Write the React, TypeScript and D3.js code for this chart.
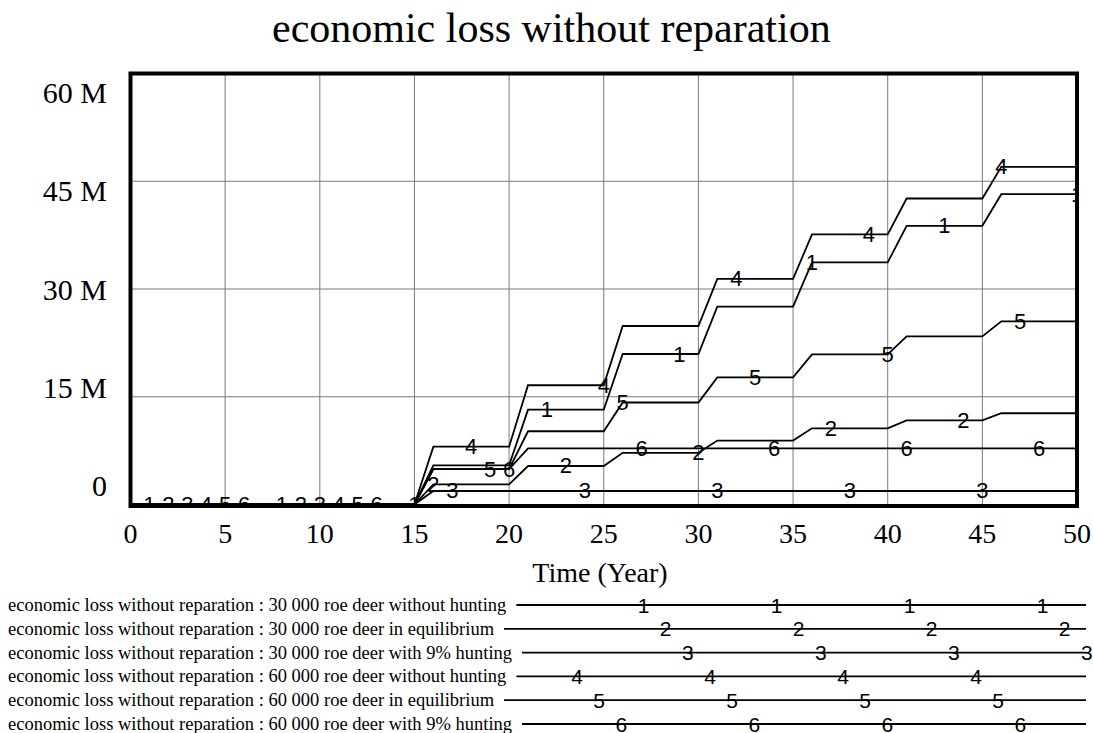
import React, { useEffect, useRef } from "react";
import * as d3 from "d3";

const TITLE = "economic loss without reparation";
const X_LABEL = "Time (Year)";
const X_TICKS = [0, 5, 10, 15, 20, 25, 30, 35, 40, 45, 50];
const Y_TICKS = [0, 15e6, 30e6, 45e6, 60e6];
const Y_TICK_LABELS = ["0", "15 M", "30 M", "45 M", "60 M"];

const SERIES_NAMES = [
  "economic loss without reparation : 30 000 roe deer without hunting",
  "economic loss without reparation : 30 000 roe deer in equilibrium",
  "economic loss without reparation : 30 000 roe deer with 9% hunting",
  "economic loss without reparation : 60 000 roe deer without hunting",
  "economic loss without reparation : 60 000 roe deer in equilibrium",
  "economic loss without reparation : 60 000 roe deer with 9% hunting",
];

// years at which each damage level is reached (level holds until the next step)
const ZERO_UNTIL = 15;
const STEP_START = [16, 21, 26, 31, 36, 41, 46];
const STEP_END = [20, 25, 30, 35, 40, 45, 50];

// values in millions for each 5-year period
const S1 = [5.45, 13.2, 20.95, 27.55, 33.7, 38.8, 43.2];
const S2 = [2.8, 5.36, 7.2, 8.9, 10.6, 11.7, 12.7];
const S3 = [1.88, 1.88, 1.88, 1.88, 1.88, 1.88, 1.88];
const S4 = [8.05, 16.6, 24.85, 31.4, 37.6, 42.6, 47.0];
const S5 = [4.92, 10.2, 14.2, 17.7, 20.9, 23.4, 25.5];
const S6 = [4.92, 7.8, 7.8, 7.8, 7.8, 7.8, 7.8];
const SERIES = [S1, S2, S3, S4, S5, S6];

const SERIF = "'Liberation Serif', 'Times New Roman', serif";
const SANS = "'Liberation Sans', Arial, sans-serif";

function valueAt(levels: number[], t: number): number {
  if (t <= ZERO_UNTIL) return 0;
  for (let i = 0; i < STEP_START.length; i++) {
    if (t >= STEP_START[i] && t <= STEP_END[i]) return levels[i] * 1e6;
  }
  for (let i = 0; i < STEP_START.length - 1; i++) {
    if (t > STEP_END[i] && t < STEP_START[i + 1]) {
      const f = (t - STEP_END[i]) / (STEP_START[i + 1] - STEP_END[i]);
      return (levels[i] + f * (levels[i + 1] - levels[i])) * 1e6;
    }
  }
  return 0;
}

export default function App() {
  const ref = useRef<SVGSVGElement | null>(null);

  useEffect(() => {
    const svg = d3.select(ref.current);
    svg.selectAll("*").remove();

    const W = 1093, H = 733;
    const x = d3.scaleLinear().domain([0, 50]).range([130.5, 1077]);
    const y = d3.scaleLinear().domain([0, 60e6]).range([504.5, 73.5]);
    const yLab = d3.scaleLinear().domain([0, 60e6]).range([496, 103]);

    svg.attr("width", W).attr("height", H);

    svg.append("text").attr("x", 272).attr("y", 42)
      .attr("font-family", SERIF).attr("font-size", 42).attr("fill", "#000")
      .text(TITLE);

    const g = svg.append("g");
    g.selectAll("line.vx").data(X_TICKS.slice(1, -1)).enter().append("line")
      .attr("x1", (d) => x(d)).attr("x2", (d) => x(d))
      .attr("y1", y(60e6)).attr("y2", y(0))
      .attr("stroke", "#7a7a7a").attr("stroke-width", 1);
    g.selectAll("line.hy").data(Y_TICKS.slice(1, -1)).enter().append("line")
      .attr("y1", (d) => y(d)).attr("y2", (d) => y(d))
      .attr("x1", x(0)).attr("x2", x(50))
      .attr("stroke", "#7a7a7a").attr("stroke-width", 1);

    svg.append("defs").append("clipPath").attr("id", "plotclip")
      .append("rect").attr("x", x(0)).attr("y", y(60e6))
      .attr("width", x(50) - x(0)).attr("height", y(0) - y(60e6));

    const plot = svg.append("g").attr("clip-path", "url(#plotclip)");
    const line = d3.line<[number, number]>().x((d) => x(d[0])).y((d) => y(d[1]));

    SERIES.forEach((levels) => {
      const pts: [number, number][] = [[0, 0], [ZERO_UNTIL, 0]];
      STEP_START.forEach((s, i) => {
        pts.push([s, levels[i] * 1e6]);
        pts.push([STEP_END[i], levels[i] * 1e6]);
      });
      plot.append("path").attr("d", line(pts)!).attr("fill", "none")
        .attr("stroke", "#000").attr("stroke-width", 1.8)
        .attr("stroke-linejoin", "miter");
    });

    SERIES.forEach((levels, si) => {
      const k = si + 1;
      for (let t = k; t <= 50; t += 7) {
        plot.append("text").attr("x", x(t)).attr("y", y(valueAt(levels, t)))
          .attr("text-anchor", "middle").attr("dominant-baseline", "central")
          .attr("font-family", SANS).attr("font-size", 22).attr("fill", "#000")
          .text(String(k));
      }
    });

    svg.append("rect").attr("x", x(0)).attr("y", y(60e6))
      .attr("width", x(50) - x(0)).attr("height", y(0) - y(60e6) + 1.5)
      .attr("fill", "none").attr("stroke", "#000").attr("stroke-width", 4);

    svg.selectAll("text.yl").data(Y_TICKS).enter().append("text")
      .attr("x", 107).attr("y", (d) => yLab(d))
      .attr("text-anchor", "end").attr("font-family", SERIF).attr("font-size", 30)
      .text((d, i) => Y_TICK_LABELS[i]);

    svg.selectAll("text.xl").data(X_TICKS).enter().append("text")
      .attr("x", (d) => x(d)).attr("y", 543)
      .attr("text-anchor", "middle").attr("font-family", SERIF).attr("font-size", 28)
      .text((d) => String(d));

    svg.append("text").attr("x", 600).attr("y", 582)
      .attr("text-anchor", "middle").attr("font-family", SERIF).attr("font-size", 28)
      .text(X_LABEL);

    const P = 133;
    const legendEnd = 1086;
    SERIES_NAMES.forEach((name, i) => {
      const base = 611 + i * 23.8;
      const t = svg.append("text").attr("x", 8).attr("y", base)
        .attr("font-family", SERIF).attr("font-size", 18.5).text(name);
      const tw = (t.node() as SVGTextElement).getComputedTextLength();
      const ly = base - 6;
      const start = 8 + tw + 10;
      svg.append("line").attr("x1", start).attr("x2", legendEnd)
        .attr("y1", ly).attr("y2", ly).attr("stroke", "#000").attr("stroke-width", 1.8);
      const k = i + 1;
      const order = (k + 2) % 6; // series 4 first
      for (let mx = 577 + order * (P / 6); mx <= legendEnd + 2; mx += P) {
        svg.append("text").attr("x", mx).attr("y", ly)
          .attr("text-anchor", "middle").attr("dominant-baseline", "central")
          .attr("font-family", SANS).attr("font-size", 21).text(String(k));
      }
    });
  }, []);

  return <svg ref={ref} width={1093} height={733} style={{ display: "block", position: "absolute", left: 0, top: 0 }} />;
}
